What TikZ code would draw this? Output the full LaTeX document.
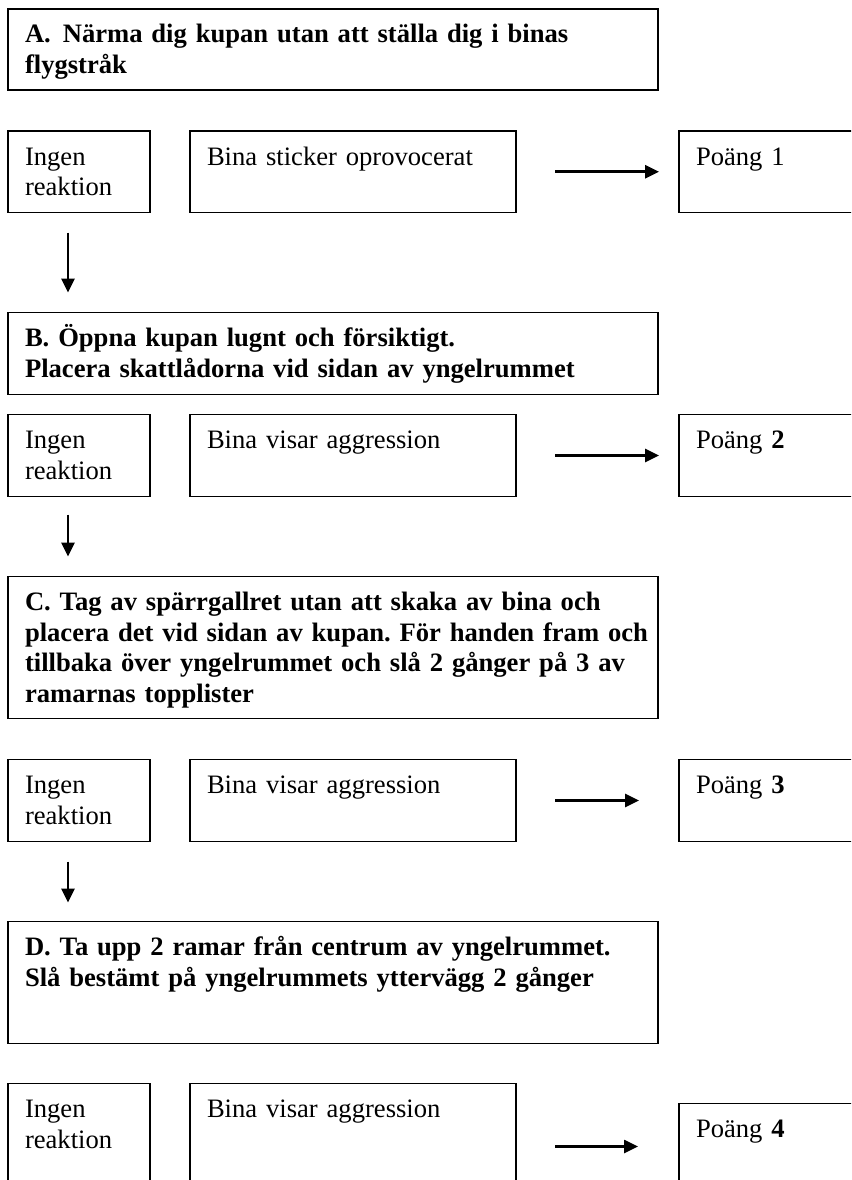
\documentclass[tikz,border=0pt]{standalone}
\usepackage{fontspec}
\setmainfont{Liberation Serif}
\usetikzlibrary{arrows.meta,positioning,calc}
\frenchspacing

\begin{document}
\begin{tikzpicture}[
  x=1pt,y=1pt,
  font=\fontsize{26.6}{30.7}\selectfont,
  block/.style={draw,line width=1.1pt,outer sep=0pt,align=left,inner xsep=17pt,inner ysep=0pt,
    text height=34pt,text depth=48pt},
  stepbox/.style={block,font=\fontsize{26.6}{30.7}\selectfont\bfseries,text width=616pt},
  arr/.style={-{Triangle[length=14pt,width=13pt]},line width=2.6pt}
]
  \path[use as bounding box,clip] (0,0) rectangle (851,-1180);

  % A
  \node[stepbox,anchor=north west,text depth=47pt] (stepA) at (8,-9)
    {A.\hspace{0.45em}Närma dig kupan utan att ställa dig i binas\\flygstråk};
  \node[block,text width=108pt,text depth=47.5pt,below right=41pt and 0pt of stepA.south west] (ingen1) {Ingen\\reaktion};
  \node[block,text width=292pt,text depth=47.5pt,right=40pt of ingen1] (bina1) {Bina sticker oprovocerat};
  \node[block,text width=166pt,text depth=47.5pt,right=163pt of bina1] (poang1) {Poäng 1};

  % B
  \node[stepbox,below right=100pt and 0pt of ingen1.south west] (stepB)
    {B. Öppna kupan lugnt och försiktigt.\\Placera skattlådorna vid sidan av yngelrummet};
  \node[block,text width=108pt,below right=20pt and 0pt of stepB.south west] (ingen2) {Ingen\\reaktion};
  \node[block,text width=292pt,right=40pt of ingen2] (bina2) {Bina visar aggression};
  \node[block,text width=166pt,right=163pt of bina2] (poang2) {Poäng \textbf{2}};

  % C
  \node[stepbox,text depth=108pt,below right=80pt and 0pt of ingen2.south west] (stepC)
    {C. Tag av spärrgallret utan att skaka av bina och\\\mbox{placera det vid sidan av kupan. För handen fram och}\\tillbaka över yngelrummet och slå 2 gånger på 3 av\\ramarnas topplister};
  \node[block,text width=108pt,below right=41pt and 0pt of stepC.south west] (ingen3) {Ingen\\reaktion};
  \node[block,text width=292pt,right=40pt of ingen3] (bina3) {Bina visar aggression};
  \node[block,text width=166pt,right=163pt of bina3] (poang3) {Poäng \textbf{3}};

  % D
  \node[stepbox,text depth=88pt,below right=80pt and 0pt of ingen3.south west] (stepD)
    {D. Ta upp 2 ramar från centrum av yngelrummet.\\Slå bestämt på yngelrummets yttervägg 2 gånger};
  \node[block,text width=108pt,text depth=90pt,below right=40pt and 0pt of stepD.south west] (ingen4) {Ingen\\reaktion};
  \node[block,text width=292pt,text depth=90pt,right=40pt of ingen4] (bina4) {Bina visar aggression};
  \node[block,text width=166pt,text depth=90pt,below right=20pt and 163pt of bina4.north east] (poang4) {Poäng \textbf{4}};

  % arrows
  \draw[arr,shorten <=39pt,shorten >=20pt] (bina1) -- (poang1);
  \draw[arr,shorten <=39pt,shorten >=20pt] (bina2) -- (poang2);
  \draw[arr,shorten <=39pt,shorten >=40pt] (bina3) -- (poang3);
  \draw[arr] ([shift={(39,-63)}]bina4.north east) -- ([shift={(-41,-43)}]poang4.north west);
  \draw[arr,shorten <=20pt,shorten >=20pt] ([xshift=-11pt]ingen1.south) -- ($(ingen1.south |- stepB.north)+(-11,0)$);
  \draw[arr,shorten <=18pt,shorten >=20pt] ([xshift=-11pt]ingen2.south) -- ($(ingen2.south |- stepC.north)+(-11,0)$);
  \draw[arr,shorten <=20pt,shorten >=19pt] ([xshift=-11pt]ingen3.south) -- ($(ingen3.south |- stepD.north)+(-11,0)$);
\end{tikzpicture}
\end{document}
